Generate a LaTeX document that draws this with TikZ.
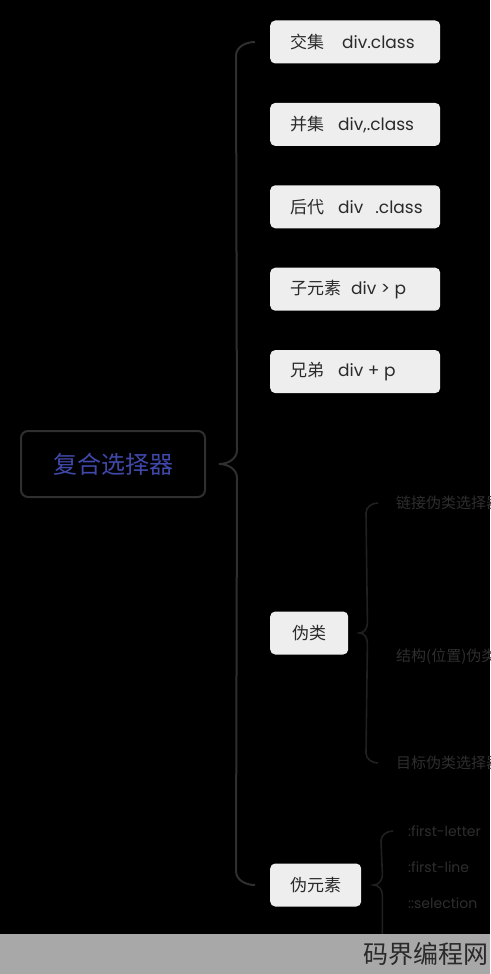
\documentclass[tikz,border=0pt]{standalone}
\usepackage{fontspec}
\setmainfont{Poppins}
\newfontfamily\cjk{Noto Sans CJK SC}
\definecolor{mmbox}{HTML}{EEEEEE}
\definecolor{mmink}{HTML}{2A2A2A}
\definecolor{mmline}{HTML}{2F2F2F}
\definecolor{mmfaint}{HTML}{202020}
\definecolor{mmleaf}{HTML}{2E2E2E}
\definecolor{mmroot}{HTML}{4049AA}
\definecolor{mmband}{HTML}{A8A8A8}
\usetikzlibrary{positioning}
\newcommand{\sel}[2]{\makebox[130pt][l]{{\cjk #1}#2}}

\begin{document}
\begin{tikzpicture}[x=1pt,y=-1pt,
  item/.style={fill=mmbox,text=mmink,rounded corners=5pt,minimum height=43pt,inner xsep=20pt,inner ysep=0pt,anchor=west,font=\fontsize{17}{20}\selectfont},
  root/.style={draw=mmline,line width=2pt,rounded corners=7pt,minimum width=184pt,minimum height=66pt,text=mmroot,font=\cjk\fontsize{24}{28}\selectfont},
  leaf/.style={anchor=west,inner sep=0pt,text=mmleaf,font=\fontsize{14}{16}\selectfont},
  cjkleaf/.style={leaf,font=\cjk\fontsize{15}{17}\selectfont},
  brace/.style={draw=mmline,line width=2pt},
  subbrace/.style={draw=mmfaint,line width=1.6pt}]
\useasboundingbox (0,0) rectangle (490,974);
\clip (0,0) rectangle (490,974);
\fill[black] (0,0) rectangle (490,974);

\node[root] (root) at (113,464) {复合选择器};

\node[item] (jiao) at (270,42) {\sel{交集}{\hspace{18pt}div.class}};
\node[item,below=39pt of jiao] (bing) {\sel{并集}{\hspace{14pt}div,.class}};
\node[item,below=39pt of bing] (hou) {\sel{后代}{\hspace{14pt}div\hspace{12pt}.class}};
\node[item,below=39pt of hou] (zi) {\sel{子元素}{\hspace{10pt}div > p}};
\node[item,below=39pt of zi] (xiong) {\sel{兄弟}{\hspace{14pt}div + p}};
\node[item,inner xsep=22pt] (wl) at (270,633) {\cjk 伪类};
\node[item] (wys) at (270,885) {\cjk 伪元素};

\node[cjkleaf] (lj) at (396,503) {链接伪类选择器};
\node[cjkleaf] (jg) at (396,657) {结构(位置)伪类选择器};
\node[cjkleaf] (mb) at (396,763) {目标伪类选择器};
\node[leaf] (fl) at (408,831) {:first-letter};
\node[leaf] (fli) at (408,867) {:first-line};
\node[leaf] (sl) at (408,903) {::selection};

\coordinate (tip) at ([xshift=13pt]root.east);
\coordinate (tipwl) at ([xshift=11pt]wl.east);
\coordinate (tipwys) at ([xshift=12pt]wys.east);

\draw[brace] ([xshift=-15pt]jiao.west) to[out=180,in=90] ++(-19,14)
  -- ([xshift=18pt,yshift=14pt]tip) to[out=-90,in=0] (tip)
  to[out=0,in=90] ([xshift=18pt,yshift=-14pt]tip)
  -- ([xshift=-34pt,yshift=14pt]wys.west) to[out=-90,in=180] ([xshift=-15pt]wys.west);

\draw[subbrace] ([xshift=-18pt]lj.west) to[out=180,in=90] ++(-12,10)
  -- ([xshift=8pt,yshift=10pt]tipwl) to[out=-90,in=0] (tipwl)
  to[out=0,in=90] ([xshift=8pt,yshift=-10pt]tipwl)
  -- ([xshift=-30pt,yshift=10pt]mb.west) to[out=-90,in=180] ([xshift=-18pt]mb.west);

\draw[subbrace] ([xshift=-15pt]fl.west) to[out=180,in=90] ++(-12,10)
  -- ([xshift=9pt,yshift=10pt]tipwys) to[out=-90,in=0] (tipwys)
  to[out=0,in=90] ([xshift=9pt,yshift=-10pt]tipwys) -- ++(0,80);

\fill[mmband] (0,934) rectangle (490,974);
\node[anchor=east,inner sep=0pt,text=mmink,font=\cjk\fontsize{25}{28}\selectfont] (wm) at (489,954) {码界编程网};
\end{tikzpicture}
\end{document}
